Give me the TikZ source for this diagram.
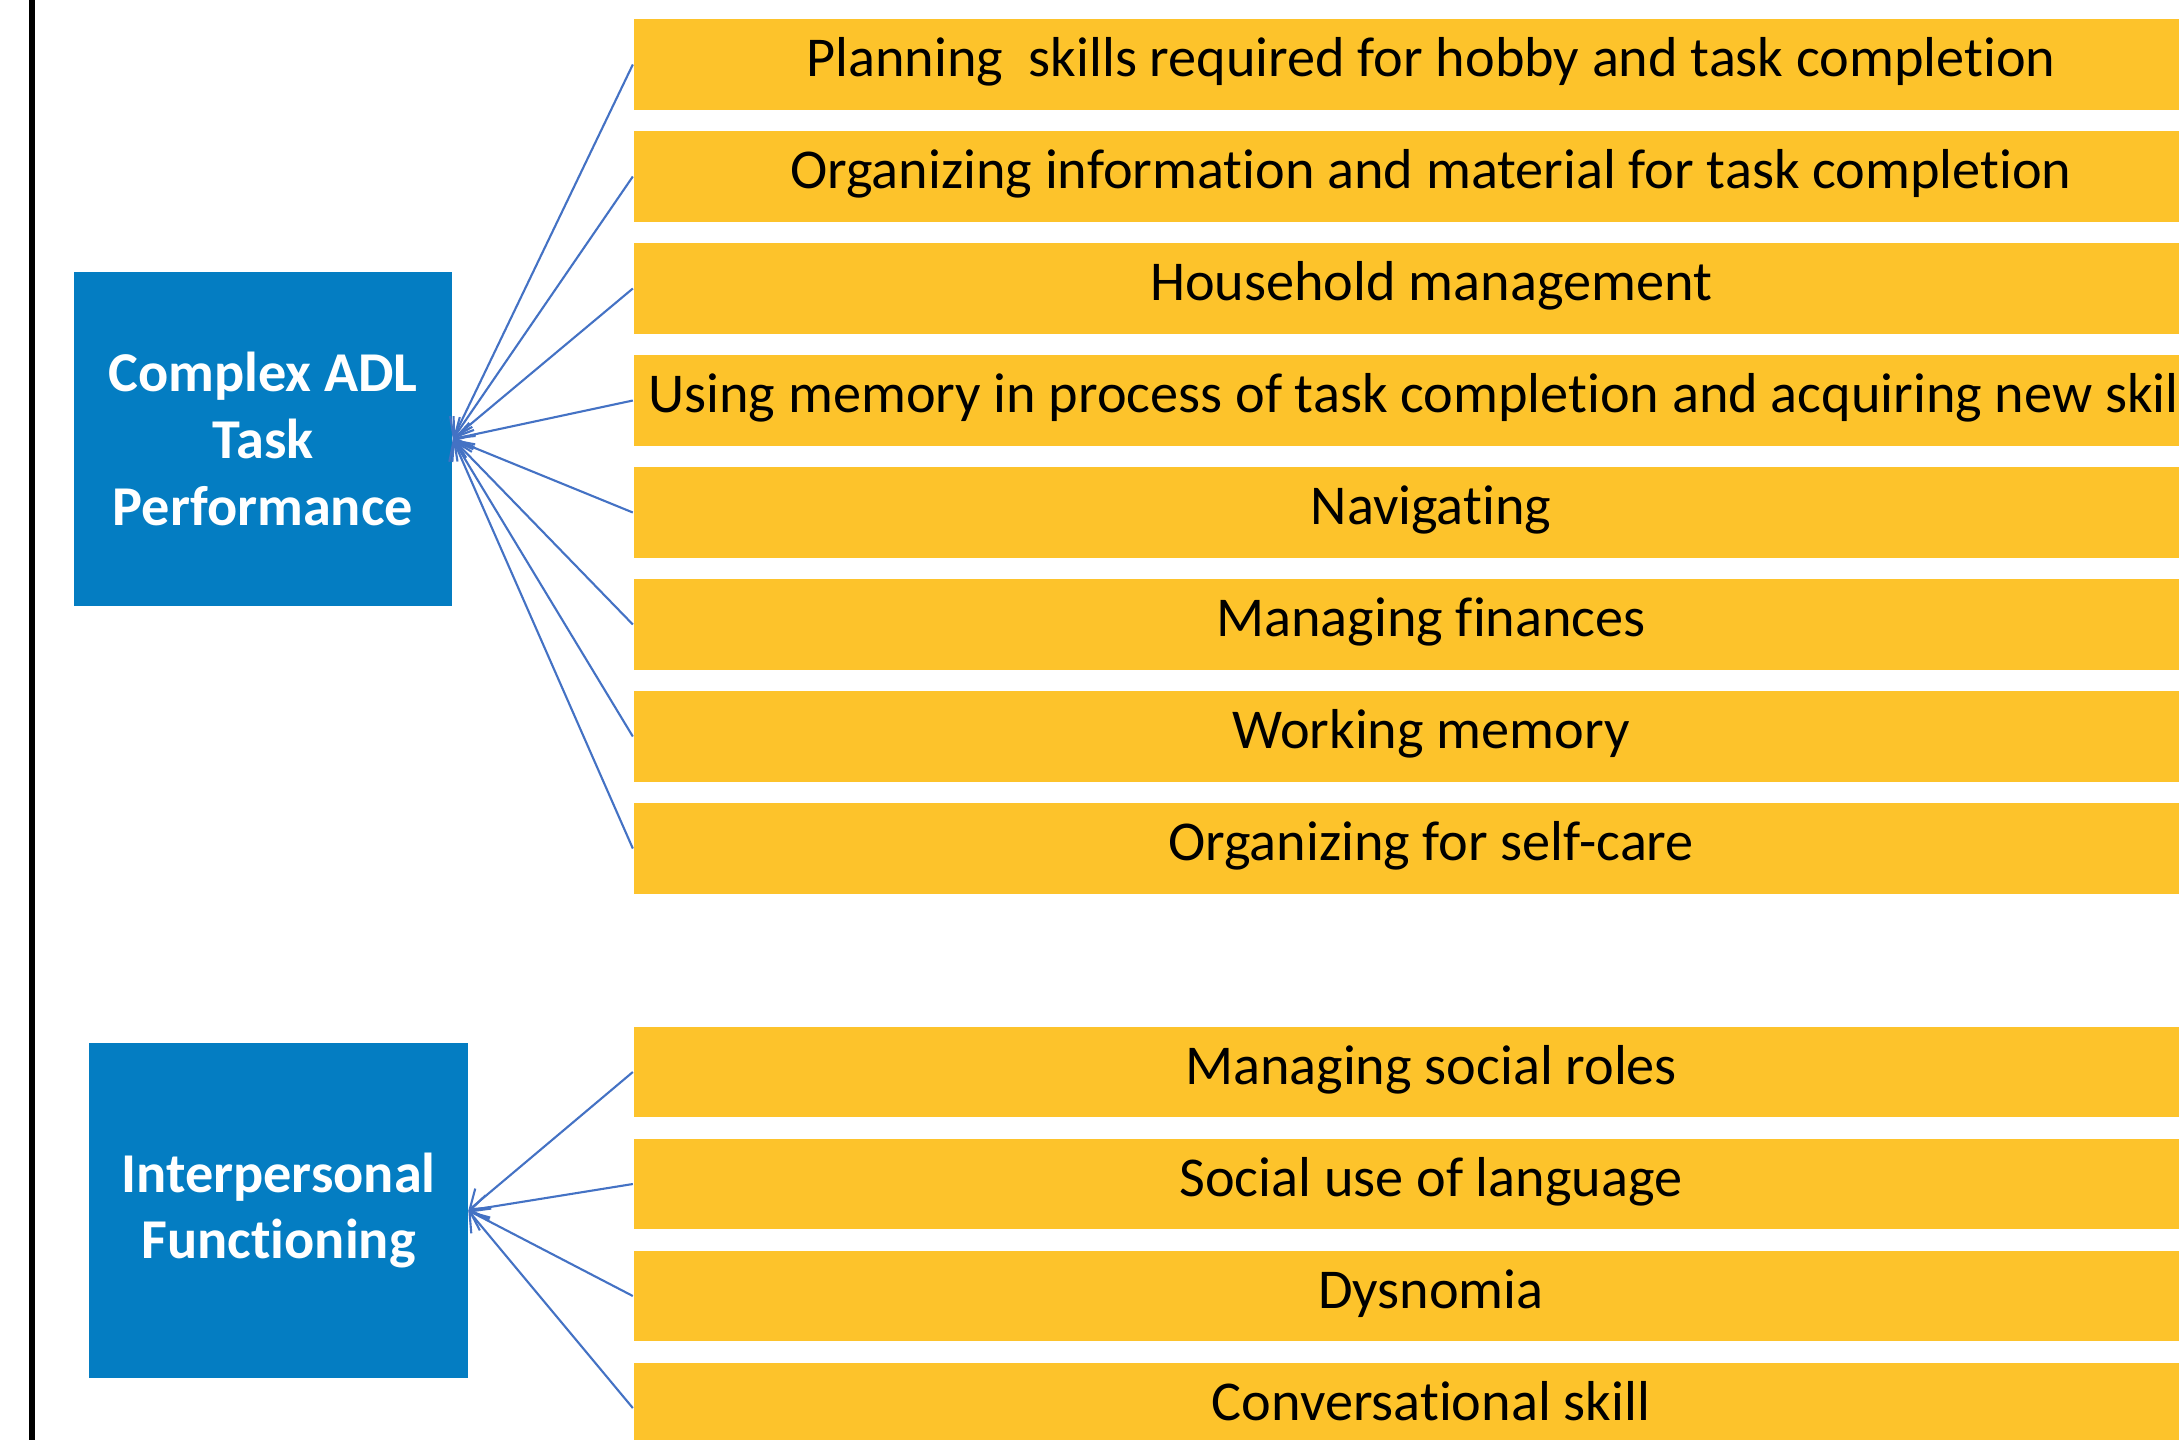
\documentclass[tikz,border=0pt]{standalone}
\usepackage{fontspec}
\setmainfont{Carlito}[Ligatures={NoCommon,NoContextual}]
\usetikzlibrary{arrows.meta}
\definecolor{areablue}{RGB}{4,125,194}
\definecolor{skillgold}{RGB}{253,195,43}
\definecolor{feedblue}{RGB}{68,114,196}
\tikzset{
  skill/.style={fill=skillgold,minimum width=15.94cm,minimum height=0.9cm,inner sep=0pt,
    text height=11pt,text depth=4pt,font=\fontsize{16}{19}\selectfont},
  area/.style={fill=areablue,text=white,align=center,minimum width=3.78cm,minimum height=3.34cm,
    font=\bfseries\fontsize{16}{19}\selectfont},
  feed/.style={feedblue,line width=0.6pt,-{Straight Barb[length=5pt,width=7pt]}}
}

\begin{document}
\begin{tikzpicture}[x=0.01cm,y=-0.01cm]
      \clip (0,0) rectangle (2179,1439);
      \draw[line width=1.8pt] (32,-10) -- (32,1450);
      \node[area] (adl) at (263,439) {Complex ADL\\Task\\Performance};
      \node[area] (inter) at (278.5,1210.5) {Interpersonal\\Functioning};
      \foreach \t [count=\i] in {Planning~ skills required for hobby and task completion,
          Organizing information and material for task completion,
          Household management,
          Using memory in process of task completion and acquiring new skills,
          Navigating,
          Managing finances,
          Working memory,
          Organizing for self-care} {
        \node[skill] (s\i) at (1431,{64.5+112*(\i-1)}) {\t};
        \draw[feed] (s\i.west) -- (adl.east);
      }
      \foreach \t [count=\i] in {Managing social roles,
          Social use of language,
          Dysnomia,
          Conversational skill} {
        \node[skill] (r\i) at (1431,{1072+112*(\i-1)}) {\t};
        \draw[feed] (r\i.west) -- (inter.east);
      }
\end{tikzpicture}
\end{document}
